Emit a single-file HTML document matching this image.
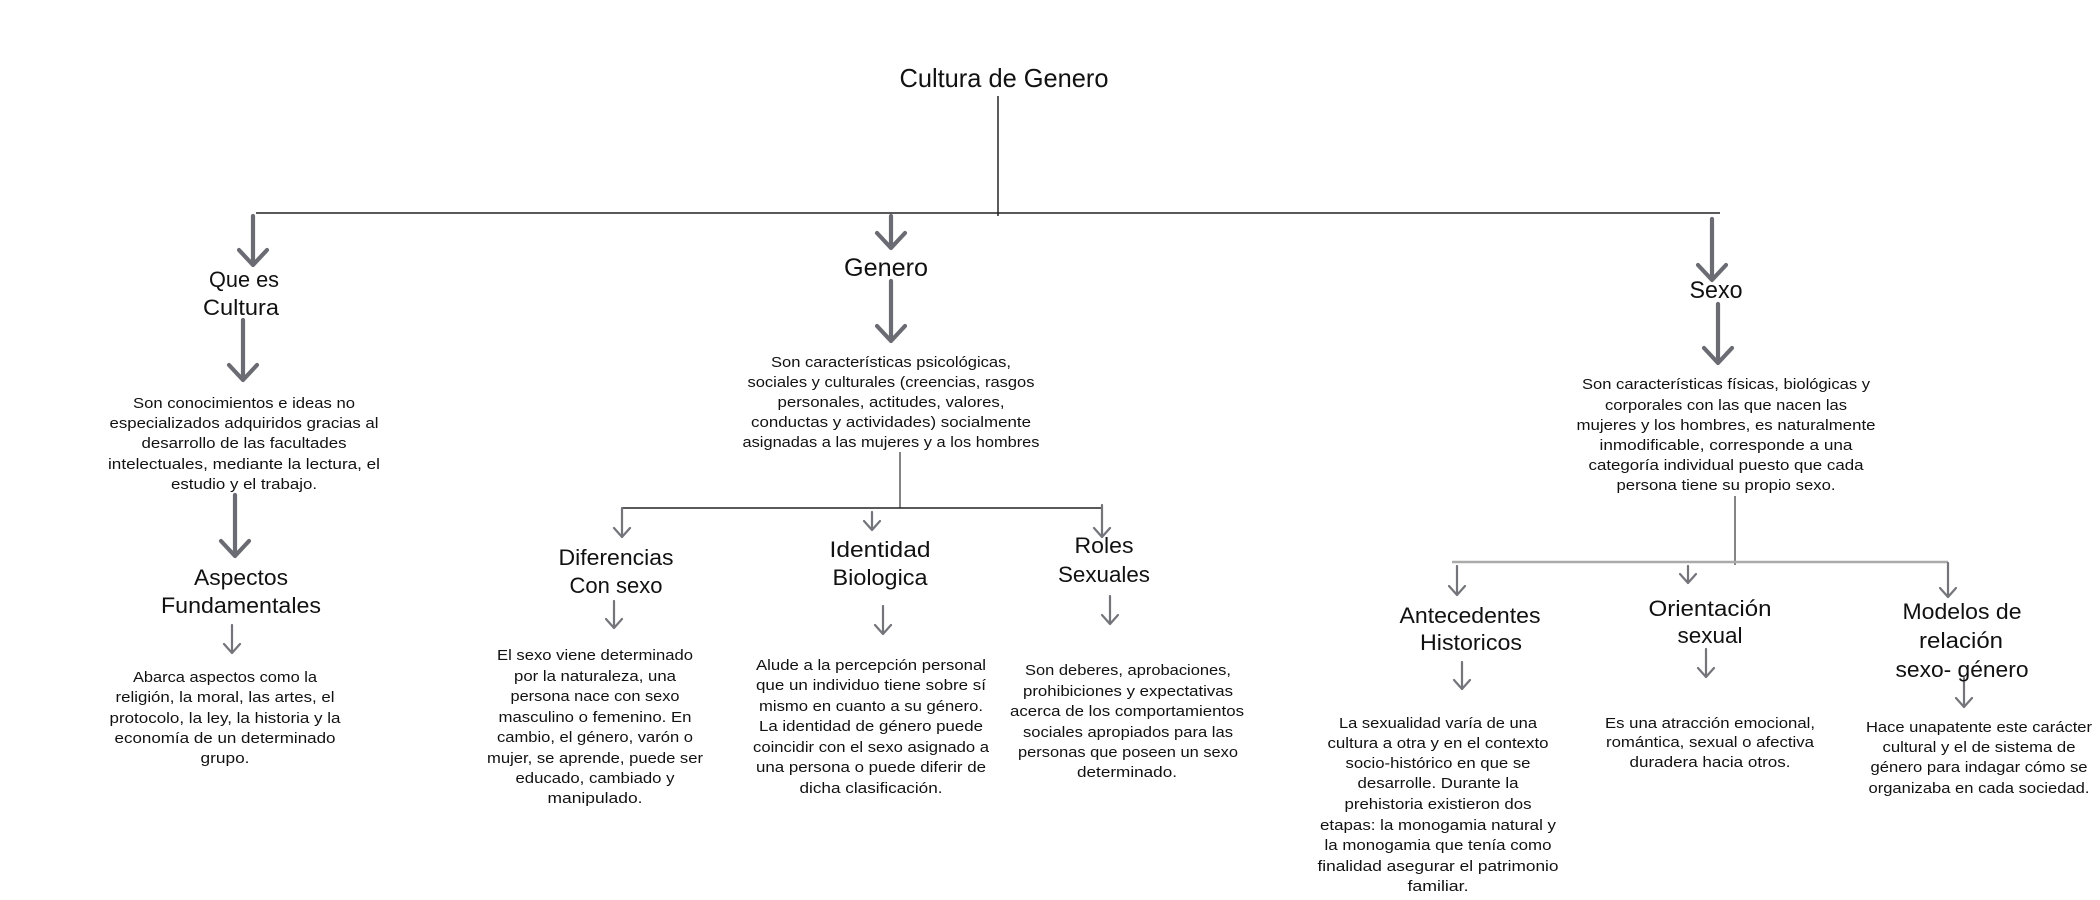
<!DOCTYPE html>
<html>
<head>
<meta charset="utf-8">
<style>
html,body{margin:0;padding:0;background:#fff;}
svg{display:block;}
text{font-family:"Liberation Sans",sans-serif;fill:#111;}
.b{font-size:15px;}
.h{font-size:22px;}
.t{fill:none;stroke:#6b6b73;stroke-width:4.2;stroke-linecap:round;stroke-linejoin:round;}
.n{fill:none;stroke:#74747b;stroke-width:2.2;stroke-linecap:round;stroke-linejoin:round;}
</style>
</head>
<body>
<svg width="2100" height="900" viewBox="0 0 2100 900" xmlns="http://www.w3.org/2000/svg">
<rect width="2100" height="900" fill="#fff"/>

<!-- connector lines -->
<line x1="998" y1="96" x2="998" y2="216" stroke="#333" stroke-width="1.6"/>
<line x1="256" y1="213" x2="1720" y2="213" stroke="#222" stroke-width="1.6"/>
<line x1="900" y1="452" x2="900" y2="508" stroke="#666" stroke-width="1.6"/>
<line x1="622" y1="508" x2="1102" y2="508" stroke="#222" stroke-width="1.6"/>
<line x1="1735" y1="496" x2="1735" y2="565" stroke="#666" stroke-width="1.6"/>
<line x1="1452" y1="562" x2="1948" y2="562" stroke="#aaa" stroke-width="2.5"/>

<!-- thick arrows -->
<g class="t">
<path d="M253 216 V265 M239 250 L253 265 L267 250"/>
<path d="M243 320 V380 M229 365 L243 380 L257 365"/>
<path d="M235 495 V556 M221 541 L235 556 L249 541"/>
<path d="M891 216 V248 M877 233 L891 248 L905 233"/>
<path d="M891 281 V341 M877 326 L891 341 L905 326"/>
<path d="M1712 219 V280 M1698 265 L1712 280 L1726 265"/>
<path d="M1718 304 V363 M1704 348 L1718 363 L1732 348"/>
</g>

<!-- thin arrows -->
<g class="n">
<path d="M232 625 V653 M224 644 L232 653 L240 644"/>
<path d="M622 508 V537 M614 528 L622 537 L630 528"/>
<path d="M872 512 V530 M864 521 L872 530 L880 521"/>
<path d="M1102 505 V537 M1094 528 L1102 537 L1110 528"/>
<path d="M614 601 V628 M606 619 L614 628 L622 619"/>
<path d="M883 606 V634 M875 625 L883 634 L891 625"/>
<path d="M1110 596 V624 M1102 615 L1110 624 L1118 615"/>
<path d="M1457 566 V595 M1449 586 L1457 595 L1465 586"/>
<path d="M1688 566 V583 M1680 574 L1688 583 L1696 574"/>
<path d="M1948 563 V597 M1940 588 L1948 597 L1956 588"/>
<path d="M1462 662 V689 M1454 680 L1462 689 L1470 680"/>
<path d="M1706 649 V677 M1698 668 L1706 677 L1714 668"/>
<path d="M1964 678 V707 M1956 698 L1964 707 L1972 698"/>
</g>

<g text-anchor="middle">
<!-- headings -->
<text x="1004" y="87" font-size="26" textLength="209" lengthAdjust="spacingAndGlyphs">Cultura de Genero</text>
<text x="886" y="276" font-size="25" textLength="84" lengthAdjust="spacingAndGlyphs">Genero</text>
<text x="1716" y="298" font-size="24" textLength="53" lengthAdjust="spacingAndGlyphs">Sexo</text>

<text class="h" x="244" y="287" textLength="70" lengthAdjust="spacingAndGlyphs">Que es</text>
<text class="h" x="241" y="315" textLength="76" lengthAdjust="spacingAndGlyphs">Cultura</text>
<text class="h" x="241" y="585" textLength="94" lengthAdjust="spacingAndGlyphs">Aspectos</text>
<text class="h" x="241" y="613" textLength="160" lengthAdjust="spacingAndGlyphs">Fundamentales</text>
<text class="h" x="616" y="565" textLength="115" lengthAdjust="spacingAndGlyphs">Diferencias</text>
<text class="h" x="616" y="593" textLength="93" lengthAdjust="spacingAndGlyphs">Con sexo</text>
<text class="h" x="880" y="557" textLength="101" lengthAdjust="spacingAndGlyphs">Identidad</text>
<text class="h" x="880" y="585" textLength="95" lengthAdjust="spacingAndGlyphs">Biologica</text>
<text class="h" x="1104" y="553" textLength="59" lengthAdjust="spacingAndGlyphs">Roles</text>
<text class="h" x="1104" y="582" textLength="92" lengthAdjust="spacingAndGlyphs">Sexuales</text>
<text class="h" x="1470" y="623" textLength="141" lengthAdjust="spacingAndGlyphs">Antecedentes</text>
<text class="h" x="1471" y="650" textLength="102" lengthAdjust="spacingAndGlyphs">Historicos</text>
<text class="h" x="1710" y="616" textLength="123" lengthAdjust="spacingAndGlyphs">Orientación</text>
<text class="h" x="1710" y="643" textLength="65" lengthAdjust="spacingAndGlyphs">sexual</text>
<text class="h" x="1962" y="619" textLength="119" lengthAdjust="spacingAndGlyphs">Modelos de</text>
<text class="h" x="1961" y="648" textLength="84" lengthAdjust="spacingAndGlyphs">relación</text>
<text class="h" x="1962" y="677" textLength="133" lengthAdjust="spacingAndGlyphs">sexo- género</text>

<!-- Que es cultura body -->
<text class="b" x="244" y="408" textLength="222" lengthAdjust="spacingAndGlyphs">Son conocimientos e ideas no</text>
<text class="b" x="244" y="428" textLength="269" lengthAdjust="spacingAndGlyphs">especializados adquiridos gracias al</text>
<text class="b" x="244" y="448" textLength="205" lengthAdjust="spacingAndGlyphs">desarrollo de las facultades</text>
<text class="b" x="244" y="469" textLength="272" lengthAdjust="spacingAndGlyphs">intelectuales, mediante la lectura, el</text>
<text class="b" x="244" y="489" textLength="146" lengthAdjust="spacingAndGlyphs">estudio y el trabajo.</text>

<!-- Aspectos body -->
<text class="b" x="225" y="682" textLength="184" lengthAdjust="spacingAndGlyphs">Abarca aspectos como la</text>
<text class="b" x="225" y="702" textLength="219" lengthAdjust="spacingAndGlyphs">religión, la moral, las artes, el</text>
<text class="b" x="225" y="723" textLength="231" lengthAdjust="spacingAndGlyphs">protocolo, la ley, la historia y la</text>
<text class="b" x="225" y="743" textLength="221" lengthAdjust="spacingAndGlyphs">economía de un determinado</text>
<text class="b" x="225" y="763" textLength="49" lengthAdjust="spacingAndGlyphs">grupo.</text>

<!-- Genero body -->
<text class="b" x="891" y="367" textLength="240" lengthAdjust="spacingAndGlyphs">Son características psicológicas,</text>
<text class="b" x="891" y="387" textLength="287" lengthAdjust="spacingAndGlyphs">sociales y culturales (creencias, rasgos</text>
<text class="b" x="891" y="407" textLength="227" lengthAdjust="spacingAndGlyphs">personales, actitudes, valores,</text>
<text class="b" x="891" y="427" textLength="280" lengthAdjust="spacingAndGlyphs">conductas y actividades) socialmente</text>
<text class="b" x="891" y="447" textLength="297" lengthAdjust="spacingAndGlyphs">asignadas a las mujeres y a los hombres</text>

<!-- Diferencias body -->
<text class="b" x="595" y="660" textLength="196" lengthAdjust="spacingAndGlyphs">El sexo viene determinado</text>
<text class="b" x="595" y="681" textLength="162" lengthAdjust="spacingAndGlyphs">por la naturaleza, una</text>
<text class="b" x="595" y="701" textLength="169" lengthAdjust="spacingAndGlyphs">persona nace con sexo</text>
<text class="b" x="595" y="722" textLength="193" lengthAdjust="spacingAndGlyphs">masculino o femenino. En</text>
<text class="b" x="595" y="742" textLength="196" lengthAdjust="spacingAndGlyphs">cambio, el género, varón o</text>
<text class="b" x="595" y="763" textLength="216" lengthAdjust="spacingAndGlyphs">mujer, se aprende, puede ser</text>
<text class="b" x="595" y="783" textLength="159" lengthAdjust="spacingAndGlyphs">educado, cambiado y</text>
<text class="b" x="595" y="803" textLength="95" lengthAdjust="spacingAndGlyphs">manipulado.</text>

<!-- Identidad body -->
<text class="b" x="871" y="670" textLength="230" lengthAdjust="spacingAndGlyphs">Alude a la percepción personal</text>
<text class="b" x="871" y="690" textLength="230" lengthAdjust="spacingAndGlyphs">que un individuo tiene sobre sí</text>
<text class="b" x="871" y="711" textLength="224" lengthAdjust="spacingAndGlyphs">mismo en cuanto a su género.</text>
<text class="b" x="871" y="731" textLength="224" lengthAdjust="spacingAndGlyphs">La identidad de género puede</text>
<text class="b" x="871" y="752" textLength="236" lengthAdjust="spacingAndGlyphs">coincidir con el sexo asignado a</text>
<text class="b" x="871" y="772" textLength="230" lengthAdjust="spacingAndGlyphs">una persona o puede diferir de</text>
<text class="b" x="871" y="793" textLength="143" lengthAdjust="spacingAndGlyphs">dicha clasificación.</text>

<!-- Roles body -->
<text class="b" x="1128" y="675" textLength="206" lengthAdjust="spacingAndGlyphs">Son deberes, aprobaciones,</text>
<text class="b" x="1128" y="696" textLength="210" lengthAdjust="spacingAndGlyphs">prohibiciones y expectativas</text>
<text class="b" x="1127" y="716" textLength="234" lengthAdjust="spacingAndGlyphs">acerca de los comportamientos</text>
<text class="b" x="1128" y="737" textLength="210" lengthAdjust="spacingAndGlyphs">sociales apropiados para las</text>
<text class="b" x="1128" y="757" textLength="220" lengthAdjust="spacingAndGlyphs">personas que poseen un sexo</text>
<text class="b" x="1127" y="777" textLength="100" lengthAdjust="spacingAndGlyphs">determinado.</text>

<!-- Sexo body -->
<text class="b" x="1726" y="389" textLength="288" lengthAdjust="spacingAndGlyphs">Son características físicas, biológicas y</text>
<text class="b" x="1726" y="410" textLength="242" lengthAdjust="spacingAndGlyphs">corporales con las que nacen las</text>
<text class="b" x="1726" y="430" textLength="299" lengthAdjust="spacingAndGlyphs">mujeres y los hombres, es naturalmente</text>
<text class="b" x="1726" y="450" textLength="253" lengthAdjust="spacingAndGlyphs">inmodificable, corresponde a una</text>
<text class="b" x="1726" y="470" textLength="275" lengthAdjust="spacingAndGlyphs">categoría individual puesto que cada</text>
<text class="b" x="1726" y="490" textLength="219" lengthAdjust="spacingAndGlyphs">persona tiene su propio sexo.</text>

<!-- Antecedentes body -->
<text class="b" x="1438" y="728" textLength="198" lengthAdjust="spacingAndGlyphs">La sexualidad varía de una</text>
<text class="b" x="1438" y="748" textLength="221" lengthAdjust="spacingAndGlyphs">cultura a otra y en el contexto</text>
<text class="b" x="1438" y="768" textLength="185" lengthAdjust="spacingAndGlyphs">socio-histórico en que se</text>
<text class="b" x="1438" y="788" textLength="161" lengthAdjust="spacingAndGlyphs">desarrolle. Durante la</text>
<text class="b" x="1438" y="809" textLength="187" lengthAdjust="spacingAndGlyphs">prehistoria existieron dos</text>
<text class="b" x="1438" y="830" textLength="236" lengthAdjust="spacingAndGlyphs">etapas: la monogamia natural y</text>
<text class="b" x="1438" y="850" textLength="227" lengthAdjust="spacingAndGlyphs">la monogamia que tenía como</text>
<text class="b" x="1438" y="871" textLength="241" lengthAdjust="spacingAndGlyphs">finalidad asegurar el patrimonio</text>
<text class="b" x="1438" y="891" textLength="61" lengthAdjust="spacingAndGlyphs">familiar.</text>

<!-- Orientación body -->
<text class="b" x="1710" y="728" textLength="210" lengthAdjust="spacingAndGlyphs">Es una atracción emocional,</text>
<text class="b" x="1710" y="747" textLength="208" lengthAdjust="spacingAndGlyphs">romántica, sexual o afectiva</text>
<text class="b" x="1710" y="767" textLength="161" lengthAdjust="spacingAndGlyphs">duradera hacia otros.</text>

<!-- Modelos body -->
<text class="b" x="1979" y="732" textLength="226" lengthAdjust="spacingAndGlyphs">Hace unapatente este carácter</text>
<text class="b" x="1979" y="752" textLength="193" lengthAdjust="spacingAndGlyphs">cultural y el de sistema de</text>
<text class="b" x="1979" y="772" textLength="217" lengthAdjust="spacingAndGlyphs">género para indagar cómo se</text>
<text class="b" x="1979" y="793" textLength="221" lengthAdjust="spacingAndGlyphs">organizaba en cada sociedad.</text>
</g>
</svg>
</body>
</html>
